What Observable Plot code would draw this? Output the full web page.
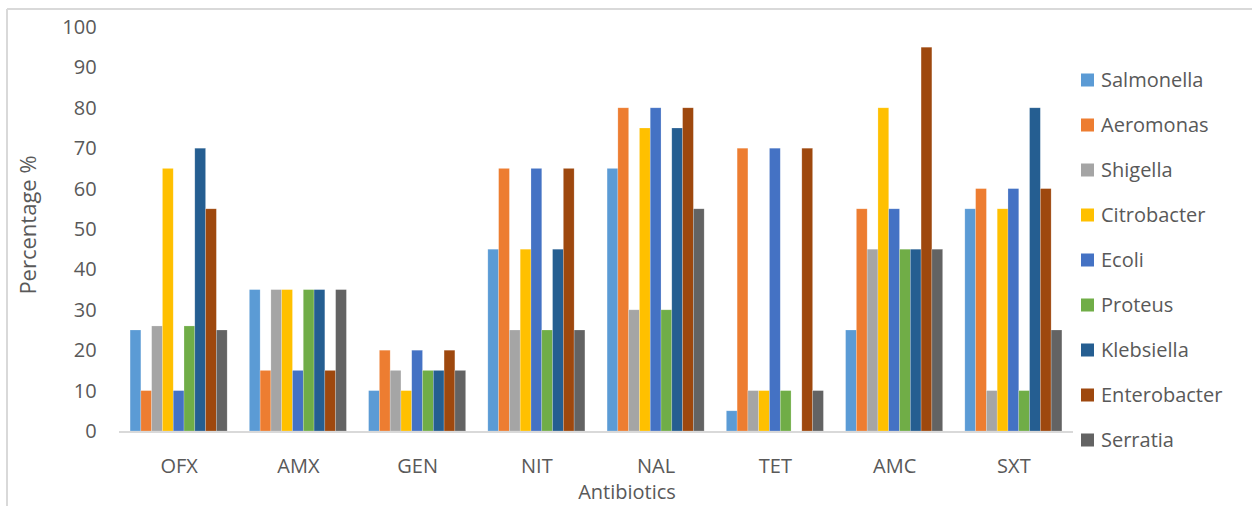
<!DOCTYPE html>
<html>
<head>
<meta charset="utf-8">
<script src="https://cdn.jsdelivr.net/npm/d3@7"></script>
<script src="https://cdn.jsdelivr.net/npm/@observablehq/plot@0.6"></script>
<style>
  html, body { margin: 0; padding: 0; background: #fff; }
  #chart { position: relative; width: 1252px; height: 506px; overflow: hidden; }
  #chart svg { display: block; }
</style>
</head>
<body>
<div id="chart"></div>
<script>
const antibiotics = ["OFX", "AMX", "GEN", "NIT", "NAL", "TET", "AMC", "SXT"];
const bacteria = ["Salmonella", "Aeromonas", "Shigella", "Citrobacter", "Ecoli", "Proteus", "Klebsiella", "Enterobacter", "Serratia"];
const colors = ["#5B9BD5", "#ED7D31", "#A5A5A5", "#FFC000", "#4472C4", "#70AD47", "#255E91", "#9E480E", "#636363"];
const yTicks = [0, 10, 20, 30, 40, 50, 60, 70, 80, 90, 100];

// values per bacterium, in antibiotic order
const salmonella   = [25, 35, 10, 45, 65,  5, 25, 55];
const aeromonas    = [10, 15, 20, 65, 80, 70, 55, 60];
const shigella     = [26, 35, 15, 25, 30, 10, 45, 10];
const citrobacter  = [65, 35, 10, 45, 75, 10, 80, 55];
const ecoli        = [10, 15, 20, 65, 80, 70, 55, 60];
const proteus      = [26, 35, 15, 25, 30, 10, 45, 10];
const klebsiella   = [70, 35, 15, 45, 75,  0, 45, 80];
const enterobacter = [55, 15, 20, 65, 80, 70, 95, 60];
const serratia     = [25, 35, 15, 25, 55, 10, 45, 25];

const series = [salmonella, aeromonas, shigella, citrobacter, ecoli, proteus, klebsiella, enterobacter, serratia];

const data = [];
bacteria.forEach((b, i) => {
  series[i].forEach((v, j) => data.push({antibiotic: antibiotics[j], bacterium: b, value: v}));
});

const W = 1252, H = 506;
const mL = 119, mR = 179, mT = 27, mB = 75;

const plot = Plot.plot({
  width: W,
  height: H,
  marginLeft: mL,
  marginRight: mR,
  marginTop: mT,
  marginBottom: mB,
  style: {fontFamily: "'Open Sans', sans-serif", fontSize: "20px", color: "#595959", background: "transparent", overflow: "visible"},
  facet: {data, x: "antibiotic", marginBottom: mB},
  fx: {domain: antibiotics, paddingInner: 0.186, paddingOuter: 0.093, round: false, label: null, tickSize: 0, tickPadding: 27},
  x: {domain: bacteria, axis: null, padding: 0, round: false},
  y: {domain: [0, 100], ticks: yTicks, tickSize: 0, tickPadding: 34, label: null},
  color: {domain: bacteria, range: colors},
  marks: [
    Plot.barY(data, {x: "bacterium", y: "value", fill: "bacterium", inset: 0, stroke: "#ffffff", strokeOpacity: 0.35, strokeWidth: 0.6})
  ]
});

document.getElementById("chart").appendChild(plot);

const svg = d3.select(plot);
const y0 = plot.scale("y").apply(0);

// chart frame (top and left edges)
svg.append("line").attr("x1", 7).attr("x2", W).attr("y1", 9).attr("y2", 9)
  .attr("stroke", "#d9d9d9").attr("stroke-width", 2);
svg.append("line").attr("x1", 7).attr("x2", 7).attr("y1", 9).attr("y2", H)
  .attr("stroke", "#d9d9d9").attr("stroke-width", 2);

// baseline
svg.append("line").attr("x1", mL).attr("x2", W - mR).attr("y1", y0 + 1).attr("y2", y0 + 1)
  .attr("stroke", "#d9d9d9").attr("stroke-width", 2);

// axis titles
svg.append("text").text("Percentage %")
  .attr("transform", "translate(28,225) rotate(-90)")
  .attr("text-anchor", "middle").attr("dy", "0.35em")
  .attr("fill", "#595959").style("font-size", "22px").style("font-family", "'Open Sans', sans-serif");
svg.append("text").text("Antibiotics")
  .attr("x", 627).attr("y", 499)
  .attr("text-anchor", "middle")
  .attr("fill", "#595959").style("font-size", "20px").style("font-family", "'Open Sans', sans-serif");

// legend
const lg = svg.append("g").attr("transform", "translate(1081,80)").attr("text-anchor", "start");
bacteria.forEach((b, i) => {
  const row = lg.append("g").attr("transform", `translate(0,${i * 45})`);
  row.append("rect").attr("x", 0).attr("y", -6.5).attr("width", 13).attr("height", 13).attr("fill", colors[i]);
  row.append("text").text(b).attr("x", 20).attr("dy", "0.35em").attr("text-anchor", "start")
    .attr("fill", "#595959").style("font-size", "20px").style("font-family", "'Open Sans', sans-serif");
});
</script>
</body>
</html>
